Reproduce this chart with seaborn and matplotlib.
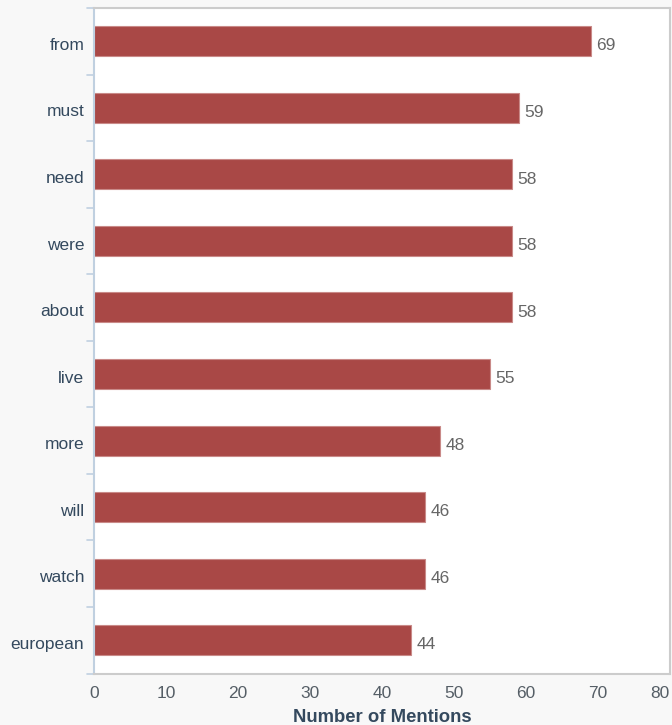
import matplotlib
matplotlib.use("Agg")
import matplotlib.pyplot as plt
import seaborn as sns
import pandas as pd

words = ["from", "must", "need", "were", "about", "live", "more", "will", "watch", "european"]
mentions = [69, 59, 58, 58, 58, 55, 48, 46, 46, 44]
x_ticks = [0, 10, 20, 30, 40, 50, 60, 70, 80]

df = pd.DataFrame({"word": words, "mentions": mentions})

sns.set_style("white")
plt.rcParams['font.family'] = ['Liberation Sans', 'DejaVu Sans']

fig = plt.figure(figsize=(6.72, 7.25), dpi=100, facecolor="#f8f8f8")
ax = fig.add_axes([0.140, 0.071, 0.857, 0.918])
ax.set_facecolor("white")

sns.barplot(data=df, x="mentions", y="word", color="#a94846", saturation=1,
            width=0.45, edgecolor="#c98a88", linewidth=0.8, ax=ax)

for i, v in enumerate(mentions):
    ax.text(v + 0.8, i + 0.07, str(v), va="center", ha="left", fontsize=12.5, color="#666666")

ax.set_xlim(0, 80)
ax.set_ylim(9.5, -0.5)
ax.set_xticks(x_ticks)
ax.set_xticklabels([str(t) for t in x_ticks], fontsize=12.5, color="#555e66")
ax.get_xticklabels()[-1].set_ha("right")
ax.tick_params(axis="y", length=0, labelsize=12.5, labelcolor="#34495e", pad=7)
ax.tick_params(axis="x", length=0, pad=9)
ax.set_yticks(range(len(words)))
ax.set_yticks([i + 0.04 for i in range(len(words))], labels=words)
ax.set_ylabel("")
ax.set_xlabel("Number of Mentions", fontsize=13.3, fontweight="bold", color="#34495e", labelpad=6)

# category boundary ticks on the left axis
for b in range(11):
    ax.plot([-0.012, 0], [b - 0.5, b - 0.5], transform=ax.get_yaxis_transform(),
            color="#c0d0e0", lw=1.2, clip_on=False)

ax.spines["left"].set_color("#c0d0e0")
ax.spines["left"].set_linewidth(1.5)
for side in ["top", "right", "bottom"]:
    ax.spines[side].set_color("#cccccc")
    ax.spines[side].set_linewidth(1.5)

fig.savefig("out.png", dpi=100, facecolor=fig.get_facecolor())
